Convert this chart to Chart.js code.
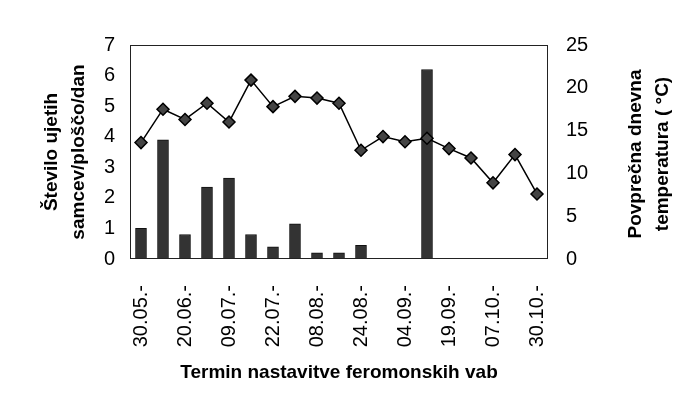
<!DOCTYPE html>
<html>
<head>
<meta charset="utf-8">
<script src="https://cdn.jsdelivr.net/npm/chart.js@4/dist/chart.umd.min.js"></script>
<style>
  html, body { margin: 0; padding: 0; background: #fff; }
  #wrap { width: 684px; height: 414px; position: relative; }
</style>
</head>
<body>
<div id="wrap"><canvas id="chart"></canvas></div>
<script>
// termini nastavitve vab (samo vsak drugi je napisan na osi)
const termini = [
  "30.05.-", "", "20.06.-", "", "09.07.-", "", "22.07.-", "", "08.08.-", "",
  "24.08.-", "", "04.09.-", "", "19.09.-", "", "07.10.-", "", "30.10.-"
]
// stevilo ujetih samcev / ploščo / dan
const samci = [1.0, 3.9, 0.8, 2.35, 2.65, 0.8, 0.4, 1.15, 0.2, 0.2, 0.45, 0, 0, 6.2, 0, 0, 0, 0, 0]
// povprecna dnevna temperatura
const temperatura = [13.6, 17.5, 16.3, 18.2, 16.0, 20.9, 17.8, 19.0, 18.8, 18.2, 12.7, 14.3, 13.7, 14.1, 12.9, 11.8, 8.9, 12.2, 7.6]

const leviNaslov = ["Število ujetih", "samcev/ploščo/dan"]
const desniNaslov = ["Povprečna dnevna", "temperatura ( °C)"]
const xNaslov = "Termin nastavitve feromonskih vab"

const font = "'Liberation Sans', Arial, sans-serif"

// okvir okoli risalne povrsine in desni naslov (bere se od spodaj navzgor)
const okvir = {
  id: "okvir",
  afterDraw(chart) {
    const { ctx, chartArea } = chart
    ctx.save()
    ctx.strokeStyle = "#222"
    ctx.lineWidth = 1
    ctx.strokeRect(chartArea.left + 0.5, chartArea.top + 0.5, chartArea.right - chartArea.left - 1, chartArea.bottom - chartArea.top - 1)

    ctx.fillStyle = "#000"
    ctx.font = "bold 19px " + font
    ctx.textAlign = "center"
    ctx.textBaseline = "middle"
    ctx.translate(636, 154)
    ctx.rotate(-Math.PI / 2)
    desniNaslov.forEach((t, i) => ctx.fillText(t, 0, i * 27))
    ctx.restore()
  },
}

new Chart(document.getElementById("chart"), {
  data: {
    labels: termini,
    datasets: [
      {
        type: "line",
        data: temperatura,
        yAxisID: "y1",
        borderColor: "#000",
        borderWidth: 1.5,
        pointStyle: "rectRot",
        pointRadius: 6,
        pointBackgroundColor: "#444",
        pointBorderColor: "#000",
        pointBorderWidth: 1.5,
        tension: 0,
        order: 0,
      },
      {
        type: "bar",
        data: samci,
        yAxisID: "y",
        backgroundColor: "#333",
        borderColor: "#111",
        borderWidth: 1,
        barThickness: 11,
        order: 1,
      },
    ],
  },
  options: {
    responsive: true,
    maintainAspectRatio: false,
    animation: false,
    layout: { padding: { top: 45 } },
    plugins: {
      legend: { display: false },
      tooltip: { enabled: false },
    },
    scales: {
      x: {
        offset: true,
        grid: { display: false, drawTicks: false },
        border: { display: false },
        ticks: {
          autoSkip: false,
          maxRotation: 90,
          minRotation: 90,
          padding: 26,
          color: "#000",
          font: { family: font, size: 20 },
        },
        title: {
          display: true,
          text: xNaslov,
          color: "#000",
          font: { family: font, size: 19, weight: "bold" },
          padding: { top: 0, bottom: 30 },
        },
        afterFit(scale) { scale.height = 155 },
      },
      y: {
        position: "left",
        min: 0,
        max: 7,
        grid: { display: false, drawTicks: false },
        border: { display: false },
        ticks: {
          stepSize: 1,
          padding: 15,
          color: "#000",
          font: { family: font, size: 20 },
        },
        title: {
          display: true,
          text: leviNaslov,
          color: "#000",
          font: { family: font, size: 19, weight: "bold", lineHeight: 1.42 },
          padding: { top: 38, bottom: 0 },
        },
        afterFit(scale) { scale.width = 130 },
      },
      y1: {
        position: "right",
        min: 0,
        max: 25,
        grid: { display: false, drawTicks: false },
        border: { display: false },
        ticks: {
          stepSize: 5,
          padding: 18,
          color: "#000",
          font: { family: font, size: 20 },
        },
        afterFit(scale) { scale.width = 136 },
      },
    },
  },
  plugins: [okvir],
})
</script>
</body>
</html>
